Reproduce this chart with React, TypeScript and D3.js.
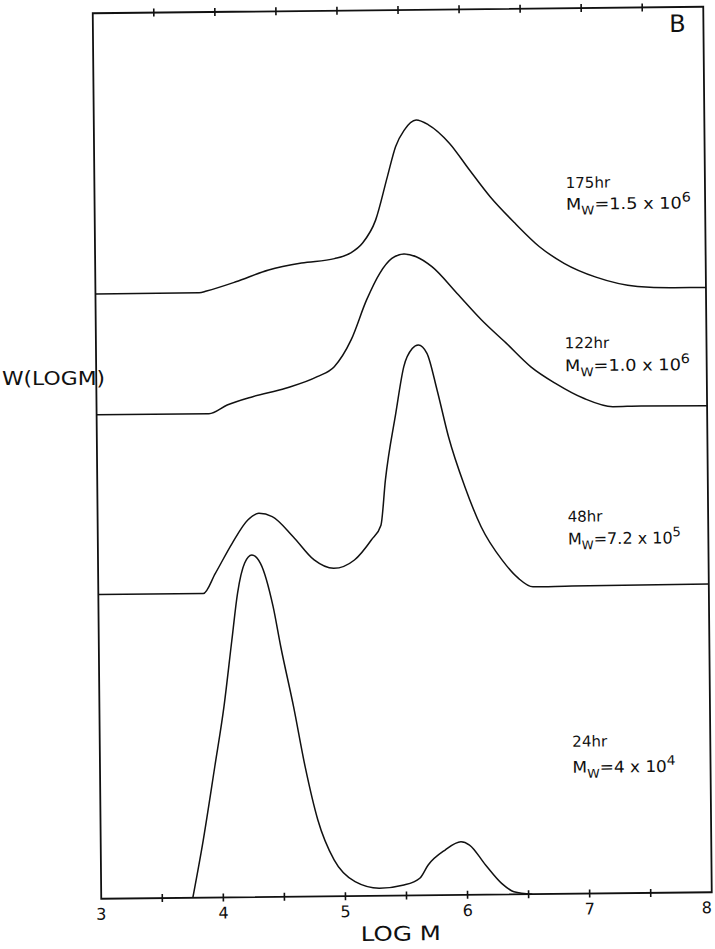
import React from 'react';
import * as d3 from 'd3';

// page / plot geometry
const svgWidth = 715;
const svgHeight = 949;
const plotW = 610.5; // frame width (before the scan tilt)
const plotH = 885.5; // frame height
const tilt = 'matrix(1,-0.01065,0.0096,1,92.75,13.25)'; // the scanned figure is slightly skewed
const ink = '#111';
const font = 'DejaVu Sans, sans-serif';

// series: log M and W(log M), each stacked on its own baseline
const hours = ['175', '122', '48', '24'];
const mwMantissa = ['1.5', '1.0', '7.2', '4'];
const mwExponent = ['6', '6', '5', '4'];
const baselines = [68.3, 54.65, 34.35, 0];

const logM175 = [3.0, 3.85, 3.91, 4.15, 4.42, 4.69, 4.96, 5.09, 5.19, 5.3, 5.4, 5.47, 5.54, 5.64, 5.74, 5.91, 6.07, 6.24, 6.44, 6.64, 6.84, 7.1, 7.44, 7.74, 8.0];
const w175 = [0, 0, 0.2, 1.2, 2.5, 3.25, 3.7, 4.3, 5.4, 8.0, 12.9, 16.3, 18.1, 19.25, 18.7, 16.6, 13.6, 10.5, 7.5, 4.8, 2.9, 1.3, 0.2, 0, 0];

const logM122 = [3.0, 3.92, 4.07, 4.28, 4.55, 4.81, 4.95, 5.09, 5.22, 5.33, 5.43, 5.53, 5.63, 5.76, 5.96, 6.16, 6.36, 6.56, 6.76, 6.99, 7.23, 7.46, 8.0];
const w122 = [0, 0, 0.95, 1.86, 2.77, 4.04, 5.15, 8.15, 12.65, 15.64, 17.3, 17.8, 17.47, 16.3, 13.3, 10.25, 7.6, 4.9, 3.0, 1.28, 0.3, 0.35, 0.3];

const logM48 = [3.0, 3.86, 3.96, 4.1, 4.23, 4.32, 4.43, 4.6, 4.77, 4.93, 5.1, 5.24, 5.32, 5.36, 5.45, 5.52, 5.59, 5.64, 5.71, 5.79, 5.88, 6.01, 6.14, 6.31, 6.44, 6.56, 6.88, 8.0];
const w48 = [0, 0, 2.26, 5.63, 8.24, 8.98, 8.6, 6.3, 3.65, 2.68, 3.6, 5.84, 7.5, 12.6, 20.1, 25.4, 27.4, 27.8, 26.85, 22.7, 17.4, 11.74, 7.2, 3.4, 1.35, 0.35, 0.4, 0.45];

const logM24 = [3.75, 3.84, 3.94, 4.02, 4.09, 4.14, 4.2, 4.26, 4.33, 4.43, 4.49, 4.59, 4.68, 4.78, 4.91, 5.08, 5.28, 5.48, 5.61, 5.68, 5.82, 5.95, 6.02, 6.15, 6.28, 6.38, 6.53];
const w24 = [0, 6.5, 14.77, 21.54, 29.06, 34.33, 37.71, 38.63, 37.69, 32.8, 28.24, 21.46, 14.67, 8.63, 4.1, 1.62, 0.85, 1.19, 1.93, 3.42, 5.09, 6.0, 5.62, 3.35, 1.26, 0.3, 0];

const seriesX = [logM175, logM122, logM48, logM24];
const seriesW = [w175, w122, w48, w24];

// where the "hr" / Mw labels sit, [log M, level]
const labelAt = [[6.86, 79.7], [6.84, 61.6], [6.85, 42.0], [6.87, 16.6]];
const labelGap = [2.45, 2.6, 2.55, 2.95];
const mwWidth = [125, 125, 113, 103];

const xScale = d3.scaleLinear().domain([3, 8]).range([0, plotW]);
const yScale = d3.scaleLinear().domain([0, 100]).range([plotH, 0]);

const line = d3.line<[number, number]>()
  .x(d => xScale(d[0]))
  .y(d => yScale(d[1]))
  .curve(d3.curveMonotoneX);

const App = () => {
  const ticks = xScale.ticks(10).filter(t => t > 3 && t < 8);
  const labels = xScale.ticks(5);

  return (
    <svg width={svgWidth} height={svgHeight} style={{ position: 'absolute', left: 0, top: 0, background: '#fff' }}>
      <g transform={tilt} fill="none" stroke={ink}>
        {/* frame */}
        <rect x={0} y={0} width={plotW} height={plotH} strokeWidth={1.8} />
        {ticks.map(t => (
          <g key={t} strokeWidth={1.6}>
            <line x1={xScale(t)} x2={xScale(t)} y1={-4} y2={4} />
            <line x1={xScale(t)} x2={xScale(t)} y1={plotH - 4} y2={plotH + 4} />
          </g>
        ))}

        {/* curves */}
        {seriesX.map((xs, i) => (
          <path
            key={hours[i]}
            d={line(xs.map((v, j) => [v, seriesW[i][j] + baselines[i]] as [number, number])) || ''}
            strokeWidth={1.5}
          />
        ))}
      </g>

      <g transform={tilt} fill={ink} stroke="none" fontFamily={font}>
        {labels.map(t => (
          <text key={t} x={xScale(t) - (t === 8 ? 5 : 0)} y={plotH + 21} fontSize={16} textAnchor="middle">{t}</text>
        ))}
        <text x={xScale(5.45)} y={plotH + 45} fontSize={20} textAnchor="middle" textLength={80} lengthAdjust="spacingAndGlyphs">LOG M</text>
        <text x={xScale(7.72)} y={yScale(97.2)} fontSize={24}>B</text>

        {hours.map((h, i) => {
          const [lx, ly] = labelAt[i];
          return (
            <g key={h}>
              <text x={xScale(lx)} y={yScale(ly)} fontSize={15}>{h}hr</text>
              <text x={xScale(lx)} y={yScale(ly - labelGap[i])} fontSize={16} textLength={mwWidth[i]} lengthAdjust="spacingAndGlyphs">
                M<tspan fontSize={12} dy={5}>W</tspan>
                <tspan dy={-5}>={mwMantissa[i]} x 10</tspan>
                <tspan fontSize={13} dy={-7}>{mwExponent[i]}</tspan>
              </text>
            </g>
          );
        })}
      </g>

      <text x={2} y={385} fill={ink} fontFamily={font} fontSize={20} textLength={103} lengthAdjust="spacingAndGlyphs">W(LOGM)</text>
    </svg>
  );
};

export default App;
